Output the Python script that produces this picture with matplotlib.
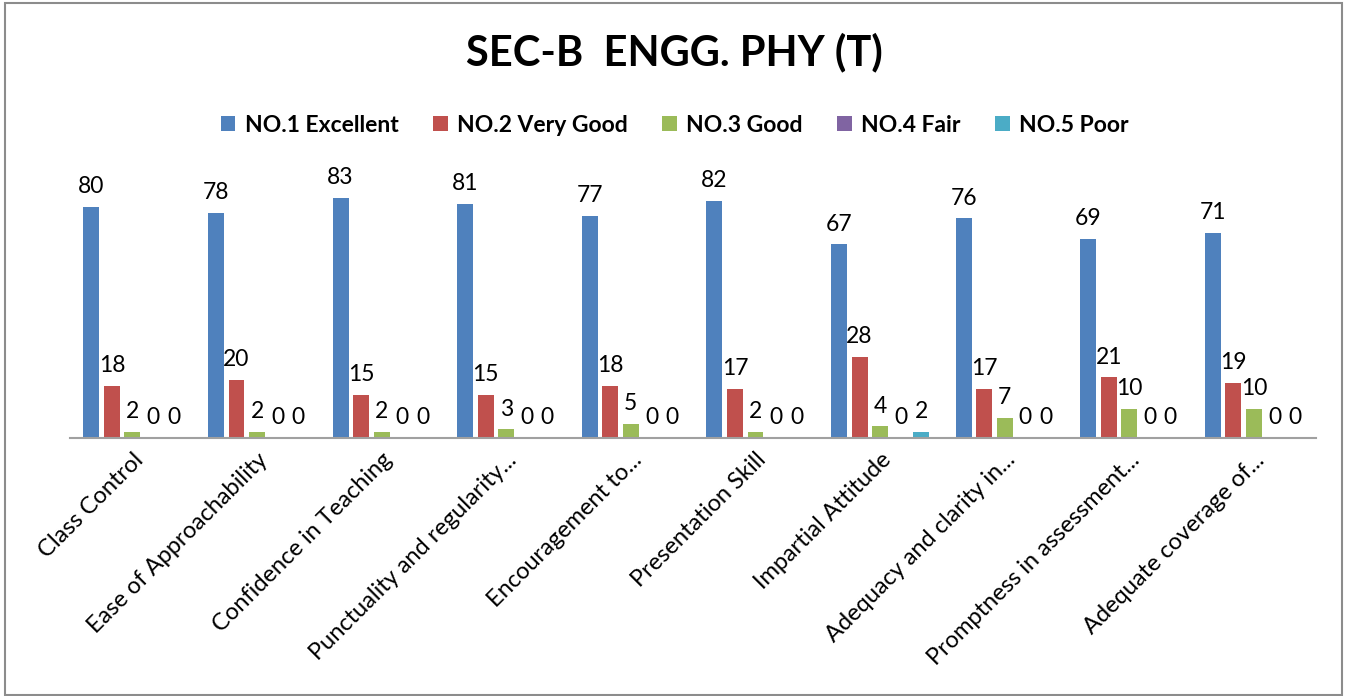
import numpy as np
import matplotlib.pyplot as plt
from matplotlib.patches import Rectangle

categories = ["Class Control", "Ease of Approachability", "Confidence in Teaching",
              "Punctuality and regularity...", "Encouragement to...", "Presentation Skill",
              "Impartial Attitude", "Adequacy and clarity in...", "Promptness in assessment...",
              "Adequate coverage of..."]
series_names = ["NO.1 Excellent", "NO.2 Very Good", "NO.3 Good", "NO.4 Fair", "NO.5 Poor"]
excellent = [80, 78, 83, 81, 77, 82, 67, 76, 69, 71]
very_good = [18, 20, 15, 15, 18, 17, 28, 17, 21, 19]
good = [2, 2, 2, 3, 5, 2, 4, 7, 10, 10]
fair = [0, 0, 0, 0, 0, 0, 0, 0, 0, 0]
poor = [0, 0, 0, 0, 0, 0, 2, 0, 0, 0]
colors = ["#4F81BD", "#C0504D", "#9BBB59", "#8064A2", "#4BACC6"]

plt.rcParams['font.family'] = ['Lato', 'DejaVu Sans']

fig = plt.figure(figsize=(13.49, 6.96), dpi=100)
ax = fig.add_axes([0.052, 0.3707, 0.9237, 0.3736])

x = np.arange(len(categories))
w = 0.128
step = 0.165
data = [excellent, very_good, good, fair, poor]
for i, (vals, name, c) in enumerate(zip(data, series_names, colors)):
    pos = x + (i - 2) * step
    ax.bar(pos, vals, width=w, color=c, label=name)
    for p, v in zip(pos, vals):
        ax.annotate(str(v), (p, v), xytext=(0, 7), textcoords="offset points",
                    ha="center", va="bottom", fontsize=16.5, annotation_clip=False)

ax.set_xlim(-0.5, len(categories) - 0.5)
ax.set_ylim(0, 90)
ax.set_yticks([])
for s in ["top", "right", "left"]:
    ax.spines[s].set_visible(False)
ax.spines["bottom"].set_color("#A0A0A0")
ax.spines["bottom"].set_linewidth(1.5)
ax.set_xticks(x)
ax.set_xticklabels(categories, rotation=45, ha="right", rotation_mode="anchor", fontsize=17)
ax.tick_params(axis="x", length=0, pad=8)

fig.text(0.5, 0.925, "SEC-B  ENGG. PHY (T)", ha="center", va="center",
         fontsize=30, fontweight="bold")
fig.legend(loc="center", bbox_to_anchor=(0.5, 0.82), ncol=5, frameon=False,
           prop={"weight": "bold", "size": 16.5}, handlelength=0.65, handleheight=0.65,
           columnspacing=1.5, handletextpad=0.4)

fig.patches.append(Rectangle((0.004, 0.002), 0.991, 0.993, transform=fig.transFigure,
                             fill=False, edgecolor="#8C8C8C", linewidth=1.5))

fig.savefig("out.png", dpi=100)
